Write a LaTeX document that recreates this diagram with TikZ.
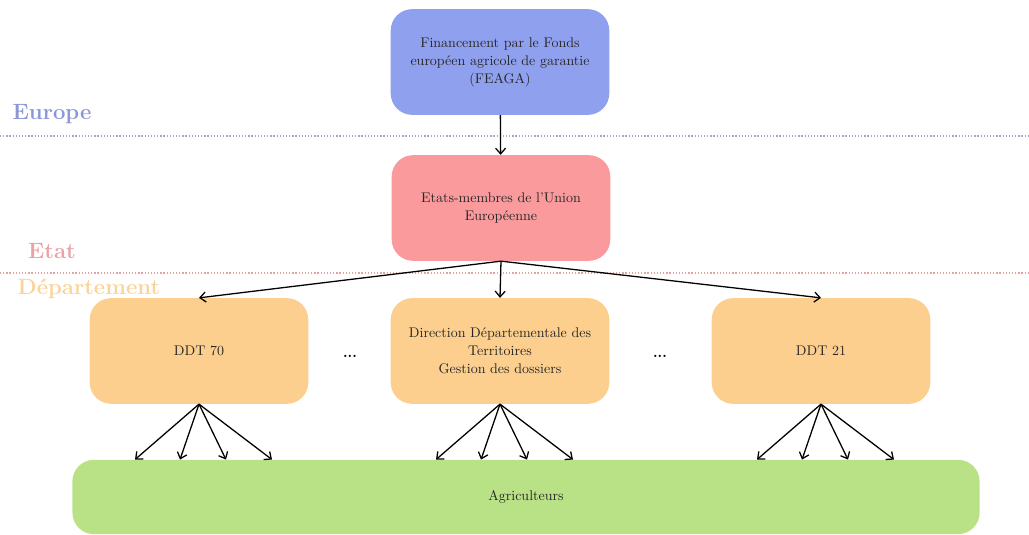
\documentclass[tikz,border=0pt]{standalone}
\usetikzlibrary{arrows.meta}

\definecolor{bleuEU}{HTML}{8FA1EE}
\definecolor{rougeEtat}{HTML}{FA9A9C}
\definecolor{orangeDep}{HTML}{FCCF8F}
\definecolor{vertAgri}{HTML}{B9E287}
\definecolor{txtEU}{HTML}{8A96D8}
\definecolor{txtEtat}{HTML}{E9A2A6}
\definecolor{txtDep}{HTML}{F9D49C}
\definecolor{ligneEU}{HTML}{A6A6CE}
\definecolor{ligneEtat}{HTML}{E3A3A0}

\tikzset{
  boite/.style={rounded corners=15pt, minimum width=153pt, minimum height=74pt,
    align=center, text=black!85, font=\fontsize{9.8}{12.6}\selectfont},
  niveau/.style={font=\fontsize{15.5}{18}\selectfont\bfseries},
  separation/.style={line width=0.9pt, dash pattern=on 0.9pt off 1.3pt},
  fleche/.style={->, line width=0.9pt},
}

\begin{document}
\begin{tikzpicture}[x=0.7pt, y=-0.7pt, >={Straight Barb[length=4pt,width=7pt]}]
    \useasboundingbox (0,0) rectangle (1029,535);

    % niveaux
    \node[niveau, text=txtEU] (europe) at (52,114) {Europe};
    \node[niveau, text=txtEtat] (etat) at (52,251) {Etat};
    \node[niveau, text=txtDep] (departement) at (89,289) {Département};
    \draw[separation, ligneEU] (0,136) -- (1029,136);
    \draw[separation, ligneEtat] (0,273) -- (1029,273);

    % boites
    \node[boite, fill=bleuEU] (feaga) at (500,62)
      {Financement par le Fonds\\européen agricole de garantie\\(FEAGA)};
    \node[boite, fill=rougeEtat] (etats) at (501,208)
      {Etats-membres de l'Union\\Européenne};
    \node[boite, fill=orangeDep] (ddt70) at (199,351) {DDT 70};
    \node[boite, fill=orangeDep] (ddt) at (500,351)
      {Direction Départementale des\\Territoires\\Gestion des dossiers};
    \node[boite, fill=orangeDep] (ddt21) at (821,351) {DDT 21};
    \node[boite, fill=vertAgri, minimum width=635pt, minimum height=52pt] (agri) at (526,497)
      {Agriculteurs};

    \node[font=\bfseries] (pts1) at (350,356) {...};
    \node[font=\bfseries] (pts2) at (660,356) {...};

    % fleches
    \draw[fleche] (feaga) -- (etats);
    \draw[fleche] (etats.south) -- (ddt70.north);
    \draw[fleche] (etats.south) -- (ddt.north);
    \draw[fleche] (etats.south) -- (ddt21.north);

    \foreach \dx in {-64,-19,27,73} {
      \draw[fleche] (ddt70.south) -- ([xshift=\dx*0.7pt]ddt70.south |- agri.north);
      \draw[fleche] (ddt.south) -- ([xshift=\dx*0.7pt]ddt.south |- agri.north);
      \draw[fleche] (ddt21.south) -- ([xshift=\dx*0.7pt]ddt21.south |- agri.north);
    }
\end{tikzpicture}
\end{document}
